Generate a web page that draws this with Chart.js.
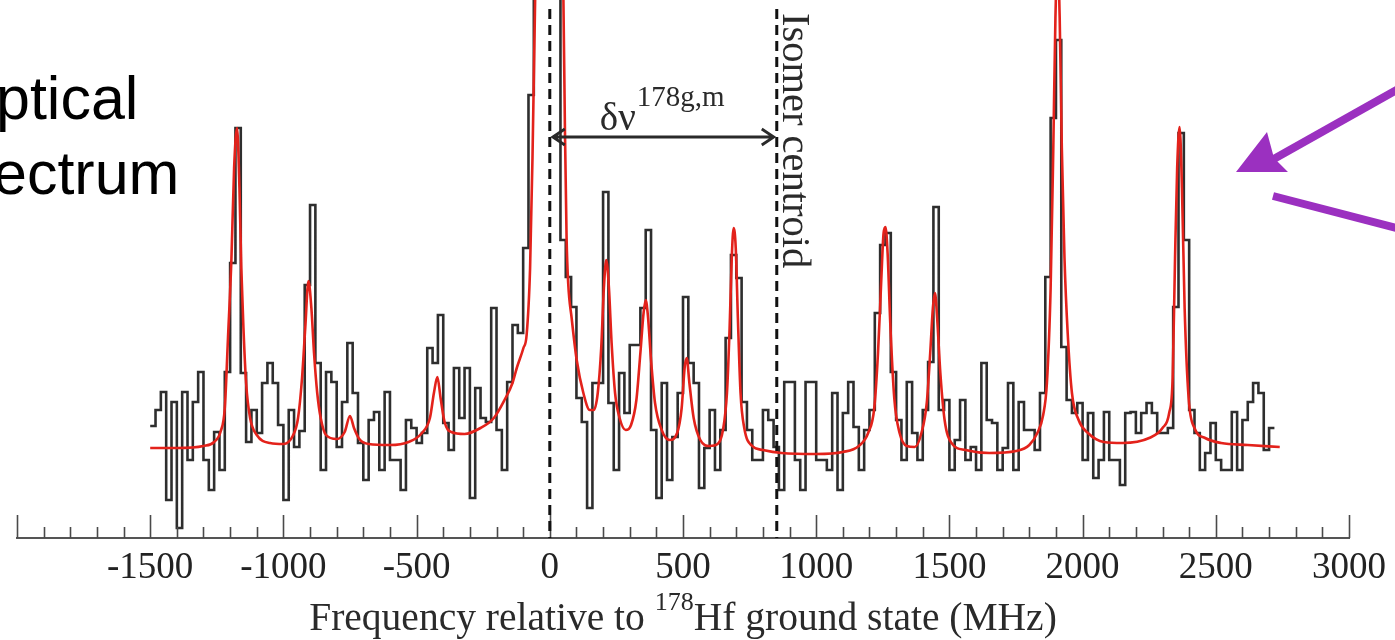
<!DOCTYPE html>
<html>
<head>
<meta charset="utf-8">
<title>178Hf optical spectrum</title>
<script src="https://cdn.jsdelivr.net/npm/chart.js@4.4.1/dist/chart.umd.min.js"></script>
<style>
  html, body { margin: 0; padding: 0; background: #fff; }
  #wrap { width: 1395px; height: 640px; }
</style>
</head>
<body>
<div id="wrap"><canvas id="spectrum" width="1395" height="640"></canvas></div>
<script>
// Histogram of counts, 20 MHz bins starting at -1500 MHz
const binStart = -1500;
const binWidth = 20;
const counts = [
    11.2, 12.8, 14.6, 3.8, 13.6, 1.0, 14.6, 7.8, 13.6, 16.6,
    7.8, 4.8, 10.6, 6.8, 16.6, 27.5, 41, 16.5, 9.6, 12.8,
    10.5, 15.5, 17.5, 15.5, 11.3, 3.8, 12.8, 9.1, 10.7, 25.3,
    33.3, 17.5, 6.8, 16.6, 15.6, 9.1, 13.6, 19.5, 14.5, 9.5,
    5.8, 11.8, 12.6, 6.8, 14.6, 7.8, 7.8, 4.8, 11.8, 11,
    9.5, 10.5, 19, 17.5, 22.3, 11.5, 8.8, 17, 12, 17,
    4, 15, 12, 11.6, 23, 10.8, 6.8, 15.6, 21.3, 20.5,
    29, 44.3, 70, 95, 110, 105, 80, 29.8, 26.1, 23.1,
    14, 11.6, 3, 15.5, 15.5, 34.6, 13.5, 6.8, 16.5, 12.5,
    19.3, 19.3, 23, 30.8, 10.8, 4, 15.5, 5.8, 10.1, 14.5,
    24.1, 17.5, 15.5, 5, 9, 12.8, 6.8, 10.8, 20, 28.3,
    26, 13.6, 10.8, 7.8, 7.8, 12.8, 11.8, 9.1, 4.8, 15.6,
    15.6, 7.8, 4.8, 15.6, 15.6, 7.8, 7.8, 6.8, 14.5, 4.8,
    12.5, 15.6, 11.1, 6.8, 10.8, 12.8, 22.5, 29.3, 30.5, 16.6,
    11.8, 7.8, 15.6, 10.5, 7.8, 12.8, 17.6, 33.1, 12.8, 13.8,
    6.8, 9.8, 13.8, 7.8, 9.1, 6.8, 17.5, 11.8, 11.5, 6.8,
    9, 15.5, 6.8, 13.6, 10.8, 10.8, 8.8, 14.5, 26.1, 42,
    49.8, 19.1, 13.8, 12.5, 13.5, 7.8, 12.5, 6, 7.8, 12.6,
    7.8, 7.8, 5.3, 12.5, 12.6, 10.5, 12.5, 13.5, 12.5, 10.5,
    10.5, 11, 23.1, 40.5, 29.8, 12.8, 10.5, 6.8, 8.5, 11.5,
    7.8, 6.8, 6.8, 12.6, 6.8, 11.8, 13.6, 15.5, 14.5, 8.8,
    11
];

// Fitted curve (MHz, counts)
const fitFreq = [
    -1500, -1400, -1300, -1260, -1235, -1220, -1208, -1195, -1185, -1174,
    -1165, -1158, -1150, -1140, -1125, -1100, -1050, -1000, -965, -945,
    -930, -918, -906, -895, -885, -873, -860, -840, -800, -770,
    -750, -735, -715, -680, -600, -530, -480, -450, -435, -422,
    -410, -395, -370, -320, -260, -210, -170, -140, -124, -99,
    -87, -74, -65, -55, -40, -20, 0, 20, 35, 51,
    57, 63, 69, 82, 101, 126, 150, 165, 180, 193,
    203, 212, 222, 232, 245, 262, 285, 305, 325, 340,
    352, 360, 368, 380, 395, 420, 450, 478, 495, 506,
    514, 524, 540, 565, 600, 630, 650, 665, 675, 683,
    690, 698, 706, 716, 730, 760, 800, 870, 1000, 1100,
    1160, 1195, 1218, 1232, 1243, 1253, 1260, 1268, 1278, 1293,
    1313, 1340, 1370, 1395, 1415, 1428, 1438, 1446, 1454, 1466,
    1482, 1508, 1560, 1650, 1750, 1800, 1830, 1852, 1866, 1880,
    1890, 1898, 1906, 1914, 1922, 1932, 1944, 1960, 1985, 2020,
    2080, 2150, 2250, 2300, 2325, 2338, 2347, 2355, 2364, 2373,
    2383, 2398, 2420, 2460, 2520, 2620, 2740
];
const fitCounts = [
    9.0, 9.0, 9.2, 9.6, 10.7, 13, 20, 28, 37, 41,
    35, 27, 21, 15.5, 12, 10.3, 9.5, 9.4, 10.2, 12,
    16, 21, 25.7, 23, 18.5, 14.5, 12, 10.3, 9.9, 10.6,
    12.2, 11, 9.9, 9.4, 9.3, 9.6, 10.5, 12, 14.5, 16.1,
    14, 11.6, 10.6, 10.4, 11, 12, 13.8, 15.5, 17, 19,
    20.3, 27, 38, 54, 80, 100, 105, 95, 75, 54,
    40.5, 30, 25.5, 22, 17.8, 14.5, 12.8, 12.8, 14.5, 19,
    25, 27.8, 25, 19.5, 14.5, 12, 10.8, 11.3, 13.8, 18.5,
    22.5, 23.8, 22.3, 17.8, 13.5, 10.8, 9.8, 10.5, 13, 17,
    18, 15.5, 12, 9.8, 9.2, 9.4, 10.8, 14.5, 21, 28,
    31, 29, 22, 14.5, 11, 9.2, 8.8, 8.5, 8.4, 8.6,
    9.2, 10.5, 13, 18.5, 25, 30.5, 31.1, 28.5, 21.5, 14,
    10.5, 9.2, 9.1, 10.5, 13.5, 18.5, 23, 24.5, 22, 16.5,
    11.8, 9.5, 8.8, 8.5, 8.7, 9.3, 10.5, 12.3, 15.5, 25,
    39, 52, 58, 52, 39, 28, 20.5, 14.5, 11.8, 10.5,
    9.6, 9.5, 10, 11, 12.5, 16, 28, 37, 41.1, 35,
    23, 14, 11, 10, 9.5, 9.3, 9.1
];

// Axis range and marked frequencies (MHz)
const axisMin = -2000;
const axisMax = 3000;
const groundCentroid = 0;
const isomerCentroid = 852;

const histPoints = counts.map((c, i) => ({ x: binStart + i * binWidth, y: c }));
histPoints.push({ x: binStart + counts.length * binWidth, y: counts[counts.length - 1] });
const fitPoints = fitFreq.map((f, i) => ({ x: f, y: fitCounts[i] }));

const serif = '"Liberation Serif", "Times New Roman", serif';

// Draws upward ticks, marker lines, arrows and the slide text
const decorations = {
    id: 'decorations',
    afterDraw(chart) {
        const { ctx, chartArea, scales } = chart;
        const xs = scales.x;
        const base = chartArea.bottom;
        ctx.save();

        // ticks pointing into the plot, minor every 100 MHz
        ctx.strokeStyle = '#4a4a4a';
        ctx.lineWidth = 1.6;
        for (let v = axisMin; v <= axisMax; v += 100) {
            const px = Math.round(xs.getPixelForValue(v)) + 0.5;
            const len = v % 500 === 0 ? 23 : 11;
            ctx.beginPath();
            ctx.moveTo(px, base);
            ctx.lineTo(px, base - len);
            ctx.stroke();
        }

        // dashed centroid lines
        const x0 = xs.getPixelForValue(groundCentroid);
        const x1 = xs.getPixelForValue(isomerCentroid);
        ctx.strokeStyle = '#111';
        ctx.lineWidth = 3;
        ctx.setLineDash([10, 6]);
        [x0, x1].forEach(px => {
            ctx.beginPath();
            ctx.moveTo(px, 9);
            ctx.lineTo(px, base);
            ctx.stroke();
        });
        ctx.setLineDash([]);

        // double arrow between the centroids
        const ay = 137;
        ctx.strokeStyle = '#2a2a2a';
        ctx.lineWidth = 2.8;
        ctx.beginPath();
        ctx.moveTo(x0 + 3, ay);
        ctx.lineTo(x1 - 3, ay);
        ctx.moveTo(x0 + 15, ay - 8);
        ctx.lineTo(x0 + 3, ay);
        ctx.lineTo(x0 + 15, ay + 8);
        ctx.moveTo(x1 - 15, ay - 8);
        ctx.lineTo(x1 - 3, ay);
        ctx.lineTo(x1 - 15, ay + 8);
        ctx.stroke();

        // delta nu label
        ctx.fillStyle = '#2a2a2a';
        ctx.textBaseline = 'alphabetic';
        ctx.textAlign = 'left';
        ctx.font = '39px ' + serif;
        ctx.fillText('δν', x0 + 50, 130);
        const dw = ctx.measureText('δν').width;
        ctx.font = '29px ' + serif;
        ctx.fillText('178g,m', x0 + 51 + dw, 106);

        // rotated label next to the isomer line
        ctx.save();
        ctx.translate(x1 + 6, 13);
        ctx.rotate(Math.PI / 2);
        ctx.font = '40.5px ' + serif;
        ctx.fillText('Isomer centroid', 0, 0);
        ctx.restore();

        // axis title with superscript
        const main1 = 'Frequency relative to ';
        const sup = '178';
        const main2 = 'Hf ground state (MHz)';
        ctx.font = '39.5px ' + serif;
        const w1 = ctx.measureText(main1).width;
        const w3 = ctx.measureText(main2).width;
        ctx.font = '26px ' + serif;
        const w2 = ctx.measureText(sup).width;
        let tx = (chartArea.left + chartArea.right) / 2 - (w1 + w2 + w3) / 2;
        const ty = 630;
        ctx.font = '39.5px ' + serif;
        ctx.fillText(main1, tx, ty);
        tx += w1;
        ctx.font = '26px ' + serif;
        ctx.fillText(sup, tx, ty - 20);
        tx += w2;
        ctx.font = '39.5px ' + serif;
        ctx.fillText(main2, tx, ty);

        // slide text, cut by the left edge
        ctx.fillStyle = '#000';
        ctx.font = '61px "Liberation Sans", Arial, sans-serif';
        ctx.fillText('Optical', -ctx.measureText('O').width - 4, 119);
        ctx.fillText('spectrum', -ctx.measureText('sp').width - 7, 194);

        // purple pointer arrows
        ctx.fillStyle = '#9b30c0';
        ctx.strokeStyle = '#9b30c0';
        ctx.lineWidth = 8;
        ctx.beginPath();
        ctx.moveTo(1272, 160);
        ctx.lineTo(1400, 88);
        ctx.stroke();
        ctx.beginPath();
        ctx.moveTo(1236, 172);
        ctx.lineTo(1267, 132);
        ctx.lineTo(1274, 158);
        ctx.lineTo(1288, 172);
        ctx.closePath();
        ctx.fill();
        ctx.beginPath();
        ctx.moveTo(1273, 196);
        ctx.lineTo(1400, 229);
        ctx.stroke();

        ctx.restore();
    }
};

const ctx = document.getElementById('spectrum').getContext('2d');
new Chart(ctx, {
    type: 'line',
    data: {
        datasets: [
            {
                label: 'Fit',
                data: fitPoints,
                borderColor: '#e3221b',
                borderWidth: 2.6,
                pointRadius: 0,
                cubicInterpolationMode: 'monotone',
                fill: false,
                order: 0
            },
            {
                label: 'Counts',
                data: histPoints,
                borderColor: '#2e2e2e',
                borderWidth: 2.6,
                pointRadius: 0,
                stepped: 'before',
                fill: false,
                order: 1
            }
        ]
    },
    options: {
        responsive: false,
        animation: false,
        events: [],
        layout: { padding: { left: 17, right: 46, top: 0, bottom: 0 } },
        plugins: {
            legend: { display: false },
            tooltip: { enabled: false },
            title: { display: false }
        },
        scales: {
            x: {
                type: 'linear',
                min: axisMin,
                max: axisMax,
                afterFit(scale) { scale.height = 102; },
                grid: { display: false, drawTicks: false },
                border: { display: true, color: '#555', width: 2 },
                ticks: {
                    stepSize: 500,
                    autoSkip: false,
                    maxRotation: 0,
                    padding: 8,
                    color: '#222',
                    font: { family: serif, size: 37 },
                    callback: v => (v === axisMin ? '' : String(v))
                }
            },
            y: { display: false, min: 0, max: 53.8 }
        }
    },
    plugins: [decorations]
});
</script>
</body>
</html>
